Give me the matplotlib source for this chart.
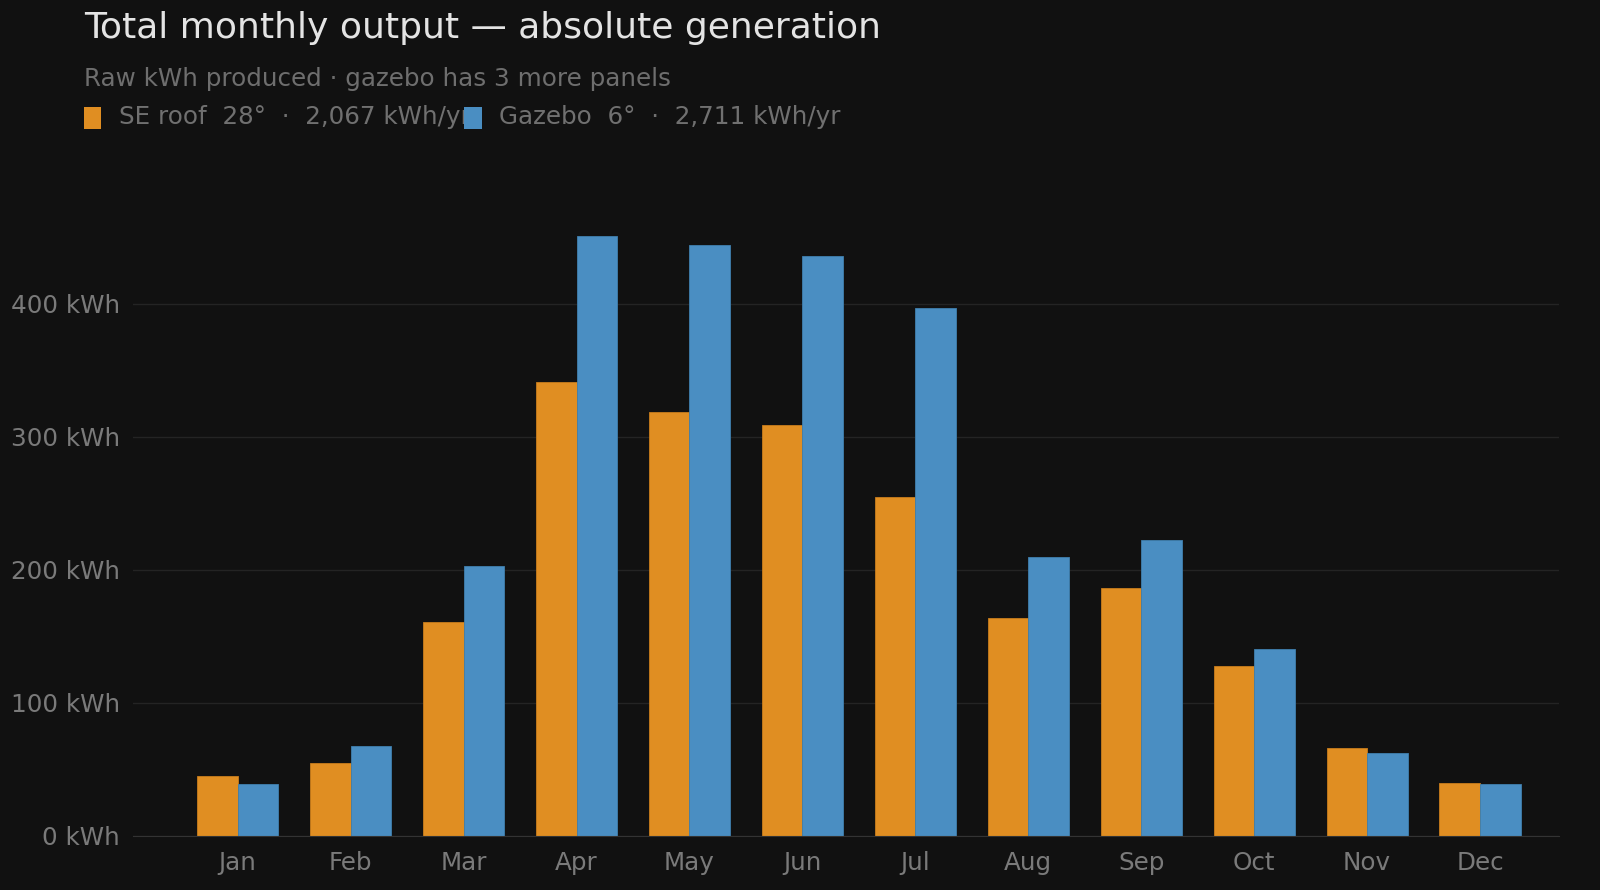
#!/usr/bin/env python

import numpy as np
import matplotlib.pyplot as plt
from matplotlib.patches import Rectangle

months = ['Jan', 'Feb', 'Mar', 'Apr', 'May', 'Jun', 'Jul', 'Aug', 'Sep', 'Oct', 'Nov', 'Dec']
se_roof = [45, 55, 161, 341, 318.5, 308.5, 255, 163.5, 186.5, 128, 66, 40]
gazebo = [39, 67.5, 203, 451, 444, 436, 397, 209.5, 222.5, 140.5, 62, 39]
yticks = [0, 100, 200, 300, 400]

bg = '#111111'
orange = '#E08E22'
blue = '#4A8EC2'
grey = '#7a7a7a'

# positions measured on a 1568x872 view of the reference
W, H = 1568.0, 872.0

fig = plt.figure(figsize = (16, 8.9), dpi = 100, facecolor = bg)
ax = fig.add_axes([130/W, 1 - 819/H, (1528 - 130)/W, (819 - 201)/H], facecolor = bg)

x = np.arange(len(months))
w = 0.36
ax.bar(x - w/2, se_roof, w, color = orange, edgecolor = '#c97d1c', linewidth = 0.6, zorder = 3)
ax.bar(x + w/2, gazebo, w, color = blue, edgecolor = '#3f7fae', linewidth = 0.6, zorder = 3)

ax.set_xlim(-0.93, 11.7)
ax.set_ylim(0, 474)
ax.set_xticks(x)
ax.set_xticklabels(months)
ax.set_yticks(yticks)
ax.set_yticklabels(['%d kWh' % v for v in yticks])
ax.tick_params(length = 0, labelsize = 17.7, colors = grey, pad = 9)
ax.tick_params(axis = 'x', pad = 11)
ax.grid(axis = 'y', color = '#242424', linewidth = 1, zorder = 0)
for s in ['top', 'right', 'left']:
    ax.spines[s].set_visible(False)
ax.spines['bottom'].set_color('#333333')
ax.spines['bottom'].set_zorder(4)

fig.text(82/W, 1 - 27/H, 'Total monthly output \u2014 absolute generation',
         color = '#e4e4e4', fontsize = 26, va = 'center')
fig.text(82/W, 1 - 77/H, 'Raw kWh produced \u00b7 gazebo has 3 more panels',
         color = '#6e6e6e', fontsize = 17.7, va = 'center')

# legend drawn by hand, entries overlap like the original
fig.text(117/W, 1 - 115/H, 'SE roof  28\u00b0  \u00b7  2,067 kWh/yr',
         color = '#707070', fontsize = 17.7, va = 'center', zorder = 1)
fig.text(489/W, 1 - 115/H, 'Gazebo  6\u00b0  \u00b7  2,711 kWh/yr',
         color = '#707070', fontsize = 17.7, va = 'center', zorder = 1)
fig.patches.append(Rectangle((82/W, 1 - 126/H), 17/W, 21/H,
                             transform = fig.transFigure, facecolor = orange, zorder = 5))
fig.patches.append(Rectangle((455/W, 1 - 126/H), 17/W, 21/H,
                             transform = fig.transFigure, facecolor = blue, zorder = 5))

plt.savefig('out.png', facecolor = bg)
